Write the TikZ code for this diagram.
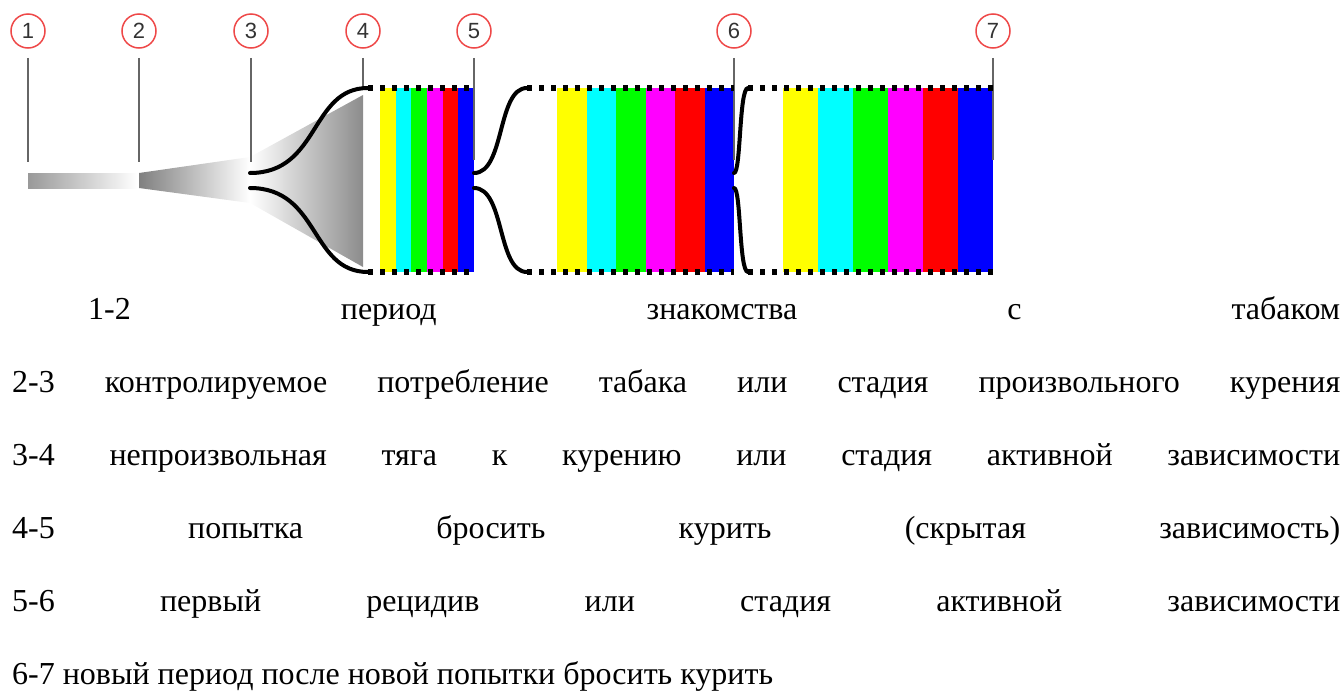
\documentclass[tikz,border=0pt]{standalone}
\usepackage{fontspec}
\setmainfont{Liberation Serif}
\newfontfamily\legendfont{Liberation Serif}
\newfontfamily\lblfont{Liberation Sans}
\definecolor{ringred}{RGB}{238,72,72}
\definecolor{tvyellow}{RGB}{255,255,0}
\definecolor{tvcyan}{RGB}{0,255,255}
\definecolor{tvgreen}{RGB}{0,255,0}
\definecolor{tvmagenta}{RGB}{255,0,255}
\definecolor{tvred}{RGB}{255,0,0}
\definecolor{tvblue}{RGB}{0,0,255}

\begin{document}
\begin{tikzpicture}[x=1pt, y=-1pt,
    stagemark/.style={circle, draw=ringred, line width=1.5pt, minimum size=34pt, inner sep=0pt, text=black!80, font=\lblfont\fontsize{22}{22}\selectfont},
    leader/.style={draw=black!60, line width=1.8pt, shorten <=9pt},
    tube/.style={line width=4pt, line cap=round},
    seam/.style={line width=5.5pt, dash pattern=on 5pt off 7pt},
    legend/.style={anchor=base west, inner sep=0pt, font=\legendfont\fontsize{32}{34}\selectfont}]
    \useasboundingbox (0,0) rectangle (1344,691);
    % grey bars
    \shade[left color=black!40, right color=white] (28,173) rectangle (137,188);
    \shade[left color=black!50, right color=white] (139,173) -- (250,157) -- (250,203) -- (139,188) -- cycle;
    \shade[left color=white, right color=black!45] (250,157) -- (363,95) -- (363,267) -- (250,203) -- cycle;
    % stripes
    \foreach \c [count=\i from 0] in {tvyellow,tvcyan,tvgreen,tvmagenta,tvred,tvblue} {
        \fill[\c] ({380+\i*15.67},88) rectangle ++(15.67,184);
        \fill[\c] ({557+\i*29.5},88) rectangle ++(29.5,184);
        \fill[\c] ({783+\i*35},88) rectangle ++(35,184);
    }
    % numbered marks
    \foreach \i/\x/\e in {1/28/162,2/139/162,3/251/162,4/363/88,5/474/160,6/734/160,7/993/160} {
        \node[stagemark] (m\i) at (\x,31) {\i};
        \coordinate (e\i) at (\x,\e);
        \draw[leader] (m\i) -- (e\i);
    }
    % curves and dotted edges
    \draw[tube] (250,173) .. controls (320,173) and (310,88) .. (368,88);
    \draw[tube] (250,188) .. controls (320,188) and (310,272) .. (368,272);
    \draw[tube] (474,173) .. controls (505,173) and (497,88) .. (527,88);
    \draw[tube] (474,188) .. controls (505,188) and (497,272) .. (527,272);
    \draw[tube] (734,173) .. controls (741,173) and (739,88) .. (748,88);
    \draw[tube] (734,188) .. controls (741,188) and (739,272) .. (748,272);
    \foreach \a/\b in {368/474,527/734,748/993} {
        \draw[seam] (\a,88) -- (\b,88);
        \draw[seam] (\a,272) -- (\b,272);
    }
    % legend
    \node[legend] (t12) at (88,319) {\makebox[1252pt][s]{1-2 период знакомства с табаком}};
    \node[legend] (t23) at (12,392) {\makebox[1328pt][s]{2-3 контролируемое потребление табака или стадия произвольного курения}};
    \node[legend] (t34) at (12,465) {\makebox[1328pt][s]{3-4 непроизвольная тяга к курению или стадия активной зависимости}};
    \node[legend] (t45) at (12,538) {\makebox[1328pt][s]{4-5 попытка бросить курить (скрытая зависимость)}};
    \node[legend] (t56) at (12,611) {\makebox[1328pt][s]{5-6 первый рецидив или стадия активной зависимости}};
    \node[legend] (t67) at (12,684) {6-7 новый период после новой попытки бросить курить};
\end{tikzpicture}
\end{document}
